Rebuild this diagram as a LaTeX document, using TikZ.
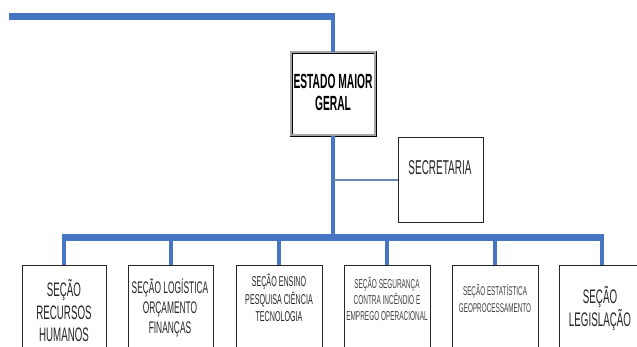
\documentclass[tikz,border=0pt]{standalone}
\usepackage{fontspec}
\setmainfont{Liberation Sans}
\newfontfamily\nar[FakeStretch=0.5]{Liberation Sans}
\definecolor{busblue}{RGB}{70,118,195}
\definecolor{thinblue}{RGB}{105,135,180}
\begin{document}
\begin{tikzpicture}[x=1pt,y=-1pt,
  box/.style={draw=black!85,line width=0.9pt,fill=white,inner sep=0pt,anchor=north west},
  lbl/.style={align=center,inner sep=0pt,text=black!85},
  bus/.style={draw=busblue,line width=7pt},
  drop/.style={draw=busblue,line width=4pt},
  thinline/.style={draw=thinblue,line width=1.5pt}]
\useasboundingbox (0,0) rectangle (637,347);
\clip (0,0) rectangle (637,347);
% boxes
\node[box,draw=black,double=black!35,double distance=2pt,line width=0.8pt,
      minimum width=84pt,minimum height=83pt] (emg) at (291,52) {};
\node[box,minimum width=85pt,minimum height=85pt] (sec) at (398,137) {};
\node[box,minimum width=84pt,minimum height=100pt] (b1) at (22,265) {};
\node[box,minimum width=85pt,minimum height=100pt] (b2) at (128,265) {};
\node[box,minimum width=86pt,minimum height=100pt] (b3) at (236,265) {};
\node[box,minimum width=86pt,minimum height=100pt] (b4) at (344,265) {};
\node[box,minimum width=86pt,minimum height=100pt] (b5) at (452,265) {};
\node[box,minimum width=86pt,minimum height=100pt] (b6) at (559,265) {};
% labels
\node[lbl,text=black,font=\nar\bfseries\fontsize{20.5}{22}\selectfont] (temg) at (333,92) {ESTADO MAIOR\\GERAL};
\node[lbl,font=\nar\fontsize{20}{22}\selectfont] (tsec) at (440,168) {SECRETARIA};
\node[lbl,font=\nar\fontsize{19.5}{22.5}\selectfont] (t1) at (64,311) {SEÇÃO\\RECURSOS\\HUMANOS};
\node[lbl,font=\nar\fontsize{16.8}{20}\selectfont] (t2) at (170,308) {SEÇÃO LOGÍSTICA\\ORÇAMENTO\\FINANÇAS};
\node[lbl,font=\nar\fontsize{14.3}{17.5}\selectfont] (t3) at (279,298) {SEÇÃO ENSINO\\PESQUISA CIÊNCIA\\TECNOLOGIA};
\node[lbl,text=black!75,font=\nar\fontsize{12.9}{16}\selectfont] (t4) at (387,299) {SEÇÃO SEGURANÇA\\CONTRA INCÊNDIO E\\EMPREGO OPERACIONAL};
\node[lbl,text=black!75,font=\nar\fontsize{12.7}{17}\selectfont] (t5) at (495,298.5) {SEÇÃO ESTATÍSTICA\\GEOPROCESSAMENTO};
\node[lbl,font=\nar\fontsize{19.6}{23}\selectfont] (t6) at (600,308.5) {SEÇÃO\\LEGISLAÇÃO};
% connectors
\coordinate (tl) at (9,17);
\coordinate (busy) at (0,237.5);
\draw[bus] (tl) -- ([xshift=2pt]tl -| emg.north);
\draw[drop] ([yshift=3.5pt]tl -| emg.north) -- (emg.north);
\draw[drop] (emg.south) -- (emg.south |- busy);
\draw[thinline] (sec.west) -- (sec.west -| emg.south);
\draw[bus] ([xshift=-2pt]b1.north |- busy) -- ([xshift=2pt]b6.north |- busy);
\foreach \b in {b1,b2,b3,b4,b5,b6}
  \draw[drop] ([yshift=-3.5pt]\b.north |- busy) -- (\b.north);
\end{tikzpicture}
\end{document}
